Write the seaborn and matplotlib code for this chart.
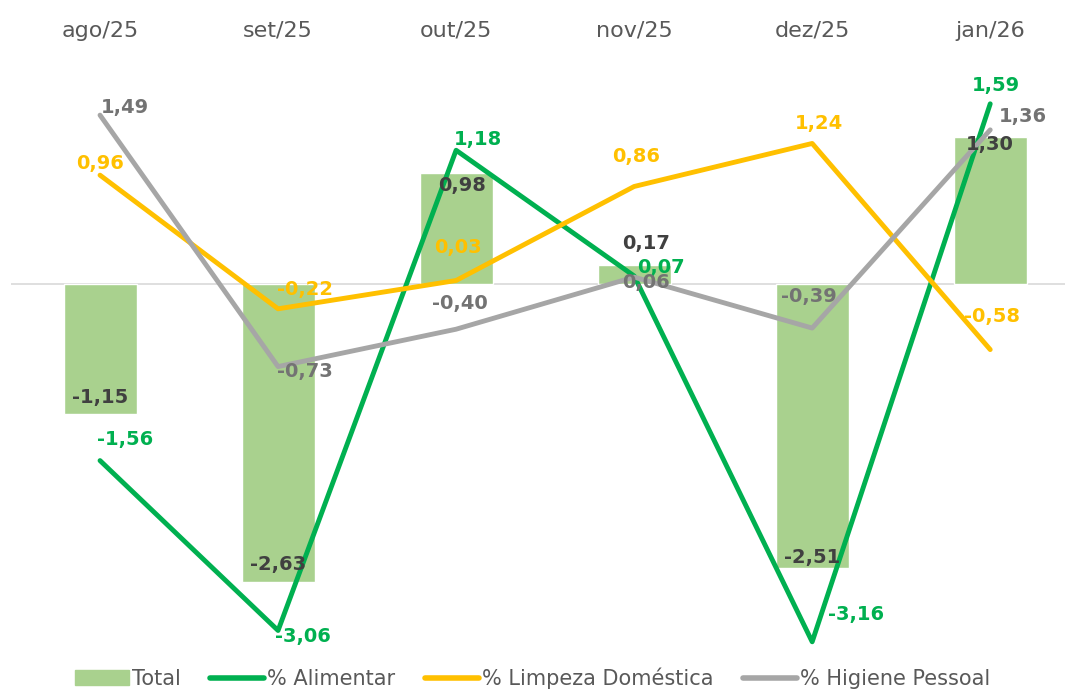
import numpy as np
import pandas as pd
import matplotlib.pyplot as plt
from matplotlib.patches import Patch
from matplotlib.lines import Line2D
import seaborn as sns

# ── Dados ────────────────────────────────────────────────
meses = ["ago/25", "set/25", "out/25", "nov/25", "dez/25", "jan/26"]
total = [-1.15, -2.63, 0.98, 0.17, -2.51, 1.30]
alimentar = [-1.56, -3.06, 1.18, 0.07, -3.16, 1.59]
limpeza = [0.96, -0.22, 0.03, 0.86, 1.24, -0.58]
higiene = [1.49, -0.73, -0.40, 0.06, -0.39, 1.36]

# ── Estilo ───────────────────────────────────────────────
sns.set_theme(style="white")
plt.rcParams["font.family"] = ["DejaVu Sans"]

cor_total = "#A9D18E"
cores = {"% Alimentar": "#00B050", "% Limpeza Doméstica": "#FFC000",
         "% Higiene Pessoal": "#A6A6A6"}
cores_rotulo = {"% Alimentar": "#00B050", "% Limpeza Doméstica": "#FFC000",
                "% Higiene Pessoal": "#737373"}

# deslocamentos dos rótulos (pixels)
desl = {
    "Total": [(0, 17), (0, 17), (6, -13), (12, 21), (0, 11), (0, -8)],
    "% Alimentar": [(25, 21), (25, -6), (22, 11), (27, 8), (44, 27), (6, 18)],
    "% Limpeza Doméstica": [(0, 12), (27, 19), (2, 33), (2, 30), (7, 20), (2, 33)],
    "% Higiene Pessoal": [(25, 8), (27, -5), (4, 26), (12, -5), (-3, 32), (33, 13)],
}

fig = plt.figure(figsize=(10.65, 6.9), dpi=100)
ax = fig.add_axes([11 / 1065, 21 / 690, 1 - 11 / 1065, 617.3 / 690])

df_total = pd.DataFrame({"mes": meses, "valor": total})
sns.barplot(data=df_total, x="mes", y="valor", color=cor_total, width=0.41,
            saturation=1, ax=ax, zorder=2)

x = np.arange(len(meses))
df_linhas = pd.DataFrame({
    "x": np.tile(x, 3),
    "valor": alimentar + limpeza + higiene,
    "serie": ["% Alimentar"] * 6 + ["% Limpeza Doméstica"] * 6 + ["% Higiene Pessoal"] * 6,
})
sns.lineplot(data=df_linhas, x="x", y="valor", hue="serie", palette=cores,
             linewidth=3.5, legend=False, ax=ax, zorder=3, sort=False)

ax.axhline(0, color="#D9D9D9", linewidth=1.2, zorder=1)

def fmt(v):
    return f"{v:.2f}".replace(".", ",")

series = [("Total", total, "#404040"),
          ("% Alimentar", alimentar, cores_rotulo["% Alimentar"]),
          ("% Limpeza Doméstica", limpeza, cores_rotulo["% Limpeza Doméstica"]),
          ("% Higiene Pessoal", higiene, cores_rotulo["% Higiene Pessoal"])]
for nome, valores, cor in series:
    for i, v in enumerate(valores):
        dx, dy = desl[nome][i]
        ax.annotate(fmt(v), (i, v), xytext=(dx, dy), textcoords="offset pixels",
                    ha="center", va="center", fontsize=14, fontweight="bold",
                    color=cor, zorder=5)

ax.set_xlim(-0.5, 5.42)
ax.set_ylim(-3.4, 2.05)
ax.xaxis.tick_top()
ax.tick_params(axis="x", length=0, pad=8, labelsize=16, labelcolor="#595959")
ax.set_yticks([])
ax.set_xlabel("")
ax.set_ylabel("")
for s in ax.spines.values():
    s.set_visible(False)

handles = [Patch(color=cor_total, label="Total")] + [
    Line2D([], [], color=c, linewidth=4, label=n) for n, c in cores.items()]
fig.legend(handles=handles, loc="center", bbox_to_anchor=(0.5, 0.017), ncol=4,
           frameon=False, fontsize=15, labelcolor="#595959", handlelength=2.6,
           handletextpad=0.15, columnspacing=1.4)

plt.savefig("out.png", dpi=100)
